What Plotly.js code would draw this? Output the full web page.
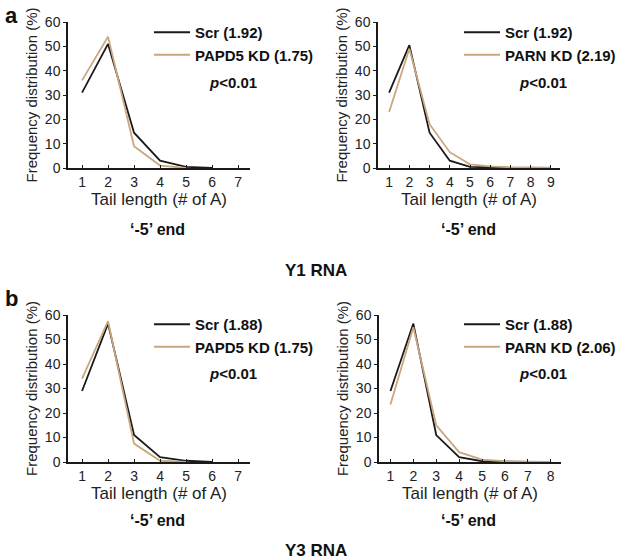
<!DOCTYPE html>
<html>
<head>
<meta charset="utf-8">
<script src="https://cdn.plot.ly/plotly-3.0.1.min.js"></script>
<style>html,body{margin:0;padding:0;background:#fff}#chart{width:625px;height:560px}</style>
</head>
<body>
<div id="chart"></div>
<script>
// ---- data ----
const aLeftScrX = [1, 2, 3, 4, 5, 6];
const aLeftScrY = [31, 51, 14.5, 3, 0.5, 0];
const aLeftKdX = [1, 2, 3, 4, 5];
const aLeftKdY = [36, 54, 9, 1, 0];

const aRightScrX = [1, 2, 3, 4, 5, 6, 7];
const aRightScrY = [31, 50.5, 14.5, 3, 0.5, 0.1, 0];
const aRightKdX = [1, 2, 3, 4, 5, 6, 7, 8, 9];
const aRightKdY = [23, 49, 18, 6.5, 1.5, 0.7, 0.3, 0.2, 0.1];

const bLeftScrX = [1, 2, 3, 4, 5, 6];
const bLeftScrY = [29, 56.5, 11, 2, 0.5, 0];
const bLeftKdX = [1, 2, 3, 4, 5];
const bLeftKdY = [34, 57.5, 7.5, 0.5, 0];

const bRightScrX = [1, 2, 3, 4, 5, 6, 7];
const bRightScrY = [29, 56.5, 11, 2, 0.3, 0.1, 0];
const bRightKdX = [1, 2, 3, 4, 5, 6, 7, 8];
const bRightKdY = [23.5, 55, 15, 4, 1, 0.3, 0.1, 0];

const seriesNames = {
  aL: ['Scr (1.92)', 'PAPD5 KD (1.75)'],
  aR: ['Scr (1.92)', 'PARN KD (2.19)'],
  bL: ['Scr (1.88)', 'PAPD5 KD (1.75)'],
  bR: ['Scr (1.88)', 'PARN KD (2.06)']
};
const xTickVals = {
  aL: [1, 2, 3, 4, 5, 6, 7],
  aR: [1, 2, 3, 4, 5, 6, 7, 8, 9],
  bL: [1, 2, 3, 4, 5, 6, 7],
  bR: [1, 2, 3, 4, 5, 6, 7, 8]
};
const yTickVals = [0, 10, 20, 30, 40, 50, 60];
const xTitle = 'Tail length (# of A)';
const yTitle = 'Frequency distribution (%)';
const endLabel = '\u2018-5\u2019 end';
const pLabel = '<i>p</i>&lt;0.01';

// ---- styling ----
const W = 625, H = 560;
const FONT = 'Liberation Sans, Arial, Helvetica, sans-serif';
const BLACK = '#1a1a1a';
const TAN = '#c9a77f';
const px = v => v / W;
const py = v => 1 - v / H;

function line(x, y, color, name, xa, ya, leg) {
  return {x: x, y: y, type: 'scatter', mode: 'lines', name: name,
    line: {color: color, width: 1.8}, xaxis: xa, yaxis: ya, legend: leg,
    hoverinfo: 'x+y'};
}

const data = [
  line(aLeftScrX, aLeftScrY, BLACK, seriesNames.aL[0], 'x', 'y', 'legend'),
  line(aLeftKdX, aLeftKdY, TAN, seriesNames.aL[1], 'x', 'y', 'legend'),
  line(aRightScrX, aRightScrY, BLACK, seriesNames.aR[0], 'x2', 'y2', 'legend2'),
  line(aRightKdX, aRightKdY, TAN, seriesNames.aR[1], 'x2', 'y2', 'legend2'),
  line(bLeftScrX, bLeftScrY, BLACK, seriesNames.bL[0], 'x3', 'y3', 'legend3'),
  line(bLeftKdX, bLeftKdY, TAN, seriesNames.bL[1], 'x3', 'y3', 'legend3'),
  line(bRightScrX, bRightScrY, BLACK, seriesNames.bR[0], 'x4', 'y4', 'legend4'),
  line(bRightKdX, bRightKdY, TAN, seriesNames.bR[1], 'x4', 'y4', 'legend4')
];

function xaxis(domain, range, ticks, anchor) {
  return {domain: domain, range: range, anchor: anchor, tickvals: ticks,
    showline: true, linecolor: BLACK, linewidth: 1.5, showgrid: false, zeroline: false,
    ticks: 'inside', ticklen: 3, tickcolor: BLACK, tickwidth: 1,
    tickfont: {family: FONT, size: 14, color: '#222'},
    title: {text: xTitle, font: {family: FONT, size: 17, color: '#222'}, standoff: 3},
    fixedrange: true};
}
function yaxis(domain, anchor) {
  return {domain: domain, range: [0, 60], anchor: anchor, tickvals: yTickVals,
    showline: true, linecolor: BLACK, linewidth: 1.5, showgrid: false, zeroline: false,
    ticks: 'outside', ticklen: 3, tickcolor: BLACK, tickwidth: 1,
    tickfont: {family: FONT, size: 14, color: '#222'},
    title: {text: yTitle, font: {family: FONT, size: 15, color: '#222'}, standoff: 4},
    fixedrange: true};
}
function legend(x, y) {
  return {x: x, y: y, xanchor: 'left', yanchor: 'top', bgcolor: 'rgba(0,0,0,0)',
    font: {family: FONT, size: 15, color: '#111', weight: 'bold'},
    tracegroupgap: 0, itemwidth: 36, itemclick: false, itemdoubleclick: false};
}

const topY = [py(168), py(22)];
const botY = [py(462), py(315)];
const leftX = [px(68), px(250)];
const rightX = [px(378), px(560)];

function ann(text, x, y, size, extra) {
  return Object.assign({text: text, x: px(x), y: py(y), xref: 'paper', yref: 'paper',
    showarrow: false, xanchor: 'center', yanchor: 'middle',
    font: {family: FONT, size: size, color: '#111', weight: 'bold'}}, extra || {});
}

const layout = {
  width: W, height: H,
  margin: {l: 0, r: 0, t: 0, b: 0},
  paper_bgcolor: '#fff', plot_bgcolor: 'rgba(0,0,0,0)',
  showlegend: true,
  xaxis: xaxis(leftX, [0.46, 7.46], xTickVals.aL, 'y'),
  yaxis: yaxis(topY, 'x'),
  xaxis2: xaxis(rightX, [0.45, 9.45], xTickVals.aR, 'y2'),
  yaxis2: yaxis(topY, 'x2'),
  xaxis3: xaxis(leftX, [0.46, 7.46], xTickVals.bL, 'y3'),
  yaxis3: yaxis(botY, 'x3'),
  xaxis4: xaxis([px(379), px(561)], [0.5, 8.45], xTickVals.bR, 'y4'),
  yaxis4: yaxis(botY, 'x4'),
  legend: legend(px(149), py(16)),
  legend2: legend(px(459), py(16)),
  legend3: legend(px(149), py(308)),
  legend4: legend(px(459), py(308)),
  annotations: [
    ann('a', 12, 15, 22),
    ann('b', 12, 298, 22),
    ann(pLabel, 233, 82, 15),
    ann(pLabel, 543, 82, 15),
    ann(pLabel, 233, 373, 15),
    ann(pLabel, 543, 373, 15),
    ann(endLabel, 157, 229, 16),
    ann(endLabel, 468, 229, 16),
    ann(endLabel, 157, 520, 16),
    ann(endLabel, 468, 520, 16),
    ann('Y1 RNA', 316, 270, 17),
    ann('Y3 RNA', 316, 550, 17)
  ]
};

Plotly.newPlot('chart', data, layout, {displayModeBar: false, staticPlot: false, responsive: false});
</script>
</body>
</html>
